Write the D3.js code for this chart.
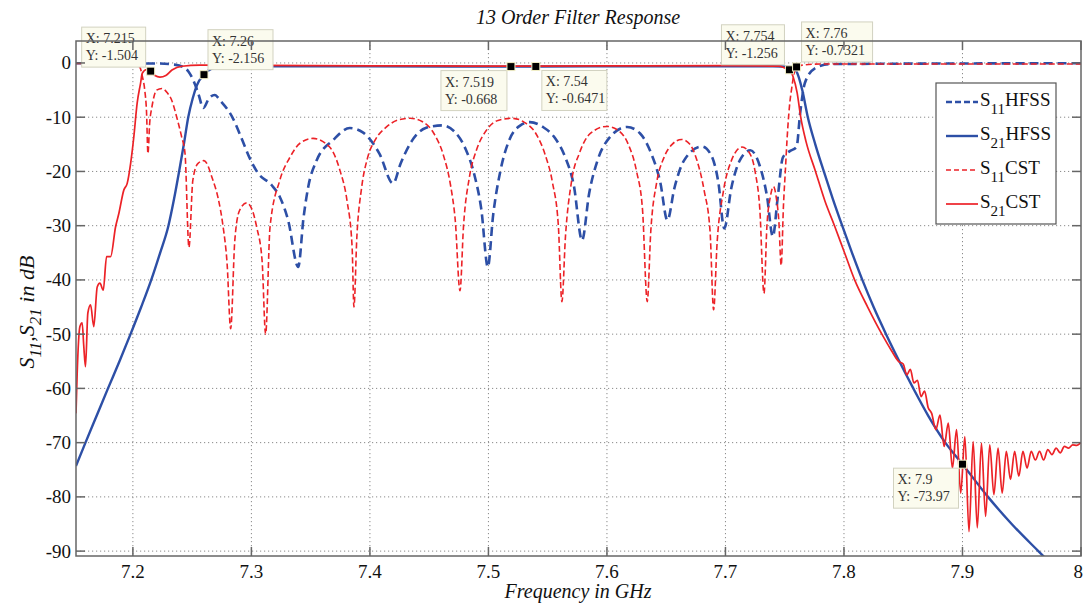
<!DOCTYPE html>
<html><head><meta charset="utf-8">
<script src="https://cdn.jsdelivr.net/npm/d3@7"></script>
<style>
body{margin:0;background:#fff;}
svg{display:block;font-family:"Liberation Serif","Times New Roman",serif;}
</style>
</head><body>
<svg id="c" width="1083" height="604"></svg>
<script>
// ---------- data ----------
const xTicks = [7.2, 7.3, 7.4, 7.5, 7.6, 7.7, 7.8, 7.9, 8.0];
const xTickLabels = ["7.2", "7.3", "7.4", "7.5", "7.6", "7.7", "7.8", "7.9", "8"];
const yTicks = [0, -10, -20, -30, -40, -50, -60, -70, -80, -90];
const yTickLabels = ["0", "-10", "-20", "-30", "-40", "-50", "-60", "-70", "-80", "-90"];

const seriesNames = ["S11HFSS", "S21HFSS", "S11CST", "S21CST"];

const s11Hfss = [
 [7.152,-0.05],[7.22,-0.1],[7.235,-0.3],[7.242,-0.7],[7.247,-1.6],[7.251,-3.2],[7.255,-5.5],
 [7.2595,-8.3],[7.264,-6.6],[7.269,-5.9],[7.274,-7],[7.2844,-10.2],[7.2915,-13.8],[7.2987,-17.6],
 [7.3055,-20.3],[7.317,-22.5],[7.324,-24.7],[7.331,-29],[7.3395,-37.6],[7.344,-28.5],[7.348,-22.8],
 [7.355,-18],[7.369,-14.2],[7.383,-12],[7.394,-12.8],[7.408,-16.7],[7.4195,-22.2],[7.426,-18.5],
 [7.435,-14.5],[7.447,-12],[7.461,-11.5],[7.472,-12.8],[7.481,-16],[7.488,-20.5],[7.494,-27],
 [7.4995,-37.6],[7.504,-28],[7.51,-20],[7.518,-14],[7.527,-11.5],[7.535,-10.9],[7.546,-11.8],
 [7.556,-13.8],[7.565,-17.5],[7.572,-22.5],[7.579,-32.7],[7.585,-24],[7.592,-18],[7.602,-13.8],
 [7.617,-11.8],[7.628,-13],[7.637,-16.5],[7.645,-22],[7.651,-29],[7.657,-23],[7.665,-18],
 [7.68,-15.4],[7.688,-17],[7.694,-22],[7.699,-30.5],[7.705,-23],[7.712,-18],[7.721,-16.1],
 [7.729,-19],[7.735,-24.5],[7.74,-32],[7.744,-25],[7.7485,-17.4],[7.754,-16.3],[7.76,-15.5],
 [7.763,-9.3],[7.767,-3.7],[7.7755,-1],[7.788,-0.2],[8.0,-0.05]
];

const s21Hfss = [
 [7.152,-74.3],[7.16,-70],[7.1695,-65],[7.179,-60],[7.1887,-55],[7.198,-50],[7.207,-45],
 [7.2155,-40],[7.223,-35],[7.23,-30],[7.2348,-25],[7.239,-20],[7.243,-15],[7.2467,-10],
 [7.2505,-6.5],[7.254,-4.1],[7.26,-2.156],[7.267,-1.0],[7.276,-0.65],[7.3,-0.6],[7.4,-0.62],
 [7.519,-0.668],[7.54,-0.647],[7.65,-0.62],[7.74,-0.6],[7.755,-0.75],[7.76,-1.6],[7.7648,-5],
 [7.7695,-10],[7.7758,-15],[7.783,-20],[7.7905,-25],[7.7985,-30],[7.8068,-35],[7.8155,-40],
 [7.825,-45],[7.8355,-50],[7.8467,-55],[7.8585,-60],[7.871,-65],[7.8855,-70],[7.9,-73.97],
 [7.9215,-80],[7.9415,-85],[7.964,-90],[7.975,-92.4]
];

const s11Cst = [
 [7.152,-0.1],[7.2,-0.2],[7.2035,-0.4],[7.2059,-0.8],[7.208,-2.5],[7.21,-5],[7.2115,-9],
 [7.2127,-16.7],[7.2142,-11],[7.216,-8.2],[7.22,-5],[7.2245,-4.7],[7.229,-5.5],[7.233,-7],
 [7.237,-10],[7.241,-13.5],[7.244,-16.7],[7.2473,-34],[7.2506,-21.6],[7.255,-18.5],[7.26,-18],
 [7.2675,-21.6],[7.272,-25],[7.276,-30],[7.2795,-37],[7.2825,-49],[7.286,-32.7],[7.29,-27.2],
 [7.296,-25.8],[7.3005,-27],[7.3045,-30.3],[7.309,-36.4],[7.312,-50],[7.3157,-30.3],
 [7.324,-21.6],[7.3325,-17.4],[7.341,-14.8],[7.352,-13.9],[7.366,-15.5],[7.3747,-19.8],
 [7.3806,-25.3],[7.385,-34],[7.3865,-45],[7.389,-32],[7.393,-23],[7.398,-17.5],[7.405,-14],
 [7.414,-11.8],[7.424,-10.5],[7.434,-10.2],[7.444,-10.8],[7.454,-13],[7.462,-17],[7.468,-22.5],
 [7.472,-29],[7.476,-42],[7.479,-30],[7.484,-21],[7.49,-16],[7.498,-12.5],[7.508,-10.6],
 [7.52,-10.2],[7.53,-10.9],[7.54,-13],[7.548,-17],[7.554,-22],[7.559,-30],[7.562,-44],
 [7.565,-32],[7.57,-22],[7.577,-16.5],[7.586,-13],[7.6,-11.7],[7.61,-12.5],[7.618,-15],
 [7.625,-20],[7.63,-27],[7.634,-44],[7.637,-31],[7.642,-22],[7.648,-17.5],[7.655,-15],
 [7.663,-14.1],[7.67,-15],[7.676,-18],[7.682,-23.5],[7.687,-31],[7.69,-45.5],[7.693,-33],
 [7.698,-24],[7.705,-18],[7.714,-15.5],[7.72,-16.5],[7.725,-20],[7.729,-27],[7.7325,-42.5],
 [7.735,-30],[7.738,-24.5],[7.7405,-22.8],[7.743,-25],[7.745,-29],[7.747,-37.3],[7.749,-26],
 [7.7505,-20],[7.752,-14],[7.754,-8],[7.756,-4.5],[7.758,-1.8],[7.76,-0.7321],[7.765,-0.4],
 [7.78,-0.2],[8.0,-0.2]
];

const s21Cst = [
 [7.152,-64.6],[7.153,-57.2],[7.1553,-48.6],[7.1572,-47.9],[7.1585,-52],[7.16,-56],[7.162,-46.1],
 [7.1643,-44.6],[7.167,-48.6],[7.1699,-41.3],[7.1722,-40.6],[7.175,-41.9],[7.1778,-35.7],
 [7.1812,-35.7],[7.1854,-30.2],[7.1882,-27.7],[7.1924,-23.4],[7.1952,-22.2],[7.1981,-18.5],
 [7.2008,-13.6],[7.2036,-7.4],[7.2065,-3.7],[7.2079,-1.9],[7.2118,-1.2],[7.215,-1.504],
 [7.2186,-2.3],[7.2228,-2.6],[7.2278,-2.3],[7.233,-1.3],[7.2414,-0.6],[7.2565,-0.4],
 [7.35,-0.5],[7.45,-0.55],[7.519,-0.6],[7.6,-0.55],[7.7,-0.5],[7.745,-0.6],[7.75,-0.9],
 [7.754,-1.256],[7.757,-2.5],[7.7605,-5.5],[7.7635,-10],[7.768,-14.5],[7.776,-20],[7.784,-25.5],
 [7.792,-30],[7.8,-34.7],[7.809,-40],[7.82,-45],[7.832,-50],[7.84,-53],[7.846,-55],[7.85,-55.5],
 [7.853,-57.5],[7.856,-56.5],[7.859,-59],[7.862,-58.5],[7.865,-61.5],[7.868,-60.5],[7.871,-63.5],
 [7.874,-64.6],[7.8775,-67.6],[7.881,-64.9],[7.8845,-70.7],[7.888,-66.4],[7.8915,-74.7],
 [7.895,-67.6],[7.8985,-79.3],[7.902,-68.9],[7.9055,-86.4],[7.909,-69.8],[7.9125,-85.7],
 [7.916,-70.1],[7.9195,-83.6],[7.923,-70.4],[7.9265,-79.6],[7.93,-71],[7.9335,-79.3],
 [7.937,-71.6],[7.9405,-76.8],[7.944,-71.6],[7.9475,-76.2],[7.951,-71.6],[7.9545,-74.7],
 [7.958,-71.6],[7.9615,-73.2],[7.965,-71.6],[7.9685,-73.2],[7.972,-71.3],[7.9755,-72.2],
 [7.979,-71],[7.9825,-71.9],[7.986,-70.7],[7.9895,-71],[7.993,-70.4],[7.9965,-70.5],[8.0,-70]
];

const tipX = [7.215, 7.26, 7.519, 7.54, 7.754, 7.76, 7.9];
const tipY = [-1.504, -2.156, -0.668, -0.6471, -1.256, -0.7321, -73.97];
const tipLabelX = ["7.215", "7.26", "7.519", "7.54", "7.754", "7.76", "7.9"];
const tipLabelY = ["-1.504", "-2.156", "-0.668", "-0.6471", "-1.256", "-0.7321", "-73.97"];

// ---------- layout ----------
const L = 76, R = 1081, T = 41, B = 556;
const svg = d3.select("#c");
const x = d3.scaleLinear().domain([7.152, 8.0]).range([L, R]);
const y = d3.scaleLinear().domain([-90.9, 4.05]).range([B, T]);

const blue = "#2d4fa6", red = "#ec2227";

// grid
const grid = svg.append("g");
grid.selectAll("line.gx").data(xTicks.slice(0, -1)).enter().append("line")
  .attr("x1", d => x(d)).attr("x2", d => x(d)).attr("y1", T).attr("y2", B)
  .attr("stroke", "#8a8a8a").attr("stroke-width", 1).attr("stroke-dasharray", "1.2,2.8");
grid.selectAll("line.gy").data(yTicks).enter().append("line")
  .attr("y1", d => y(d)).attr("y2", d => y(d)).attr("x1", L).attr("x2", R)
  .attr("stroke", "#8a8a8a").attr("stroke-width", 1).attr("stroke-dasharray", "1.2,2.8");

// clip
svg.append("clipPath").attr("id", "pc").append("rect")
  .attr("x", L).attr("y", T).attr("width", R - L).attr("height", B - T);

const line = d3.line().x(d => x(d[0])).y(d => y(d[1])).curve(d3.curveMonotoneX);
const plot = svg.append("g").attr("clip-path", "url(#pc)");
const styles = [
  {data: s11Hfss, color: blue, w: 2.6, dash: "9,5"},
  {data: s21Hfss, color: blue, w: 2.4, dash: null},
  {data: s11Cst, color: red, w: 1.6, dash: "6,3"},
  {data: s21Cst, color: red, w: 1.7, dash: null}
];
styles.forEach(s => {
  const p = plot.append("path").datum(s.data).attr("d", line)
    .attr("fill", "none").attr("stroke", s.color).attr("stroke-width", s.w)
    .attr("stroke-linejoin", "round");
  if (s.dash) p.attr("stroke-dasharray", s.dash);
});

// data tips
const tipOff = [[-69,-44,64],[4,-45,65],[-70,4,66],[6,4,65],[-68,-45,63],[5,-45,71],[-69,4,65]];
const tips = svg.append("g");
tipX.forEach((tx, i) => {
  const px = x(tx), py = y(tipY[i]);
  const o = tipOff[i];
  const bx = px + o[0], by = py + o[1];
  tips.append("rect").attr("x", bx).attr("y", by).attr("width", o[2]).attr("height", 40)
    .attr("fill", "#fbfbee").attr("stroke", "#d2d2c0").attr("stroke-width", 1);
  tips.append("text").attr("x", bx + 4).attr("y", by + 16).attr("font-size", 14).attr("fill", "#333")
    .text("X: " + tipLabelX[i]);
  tips.append("text").attr("x", bx + 4).attr("y", by + 33).attr("font-size", 14).attr("fill", "#333")
    .text("Y: " + tipLabelY[i]);
  tips.append("rect").attr("x", px - 4).attr("y", py - 4).attr("width", 8).attr("height", 8)
    .attr("fill", "#000").attr("stroke", "#f3f0c8").attr("stroke-width", 1);
});

// frame & ticks
const frame = svg.append("g").attr("stroke", "#666").attr("stroke-width", 1.5);
frame.append("rect").attr("x", L).attr("y", T).attr("width", R - L).attr("height", B - T).attr("fill", "none");
xTicks.forEach(t => {
  frame.append("line").attr("x1", x(t)).attr("x2", x(t)).attr("y1", B).attr("y2", B - 9);
  frame.append("line").attr("x1", x(t)).attr("x2", x(t)).attr("y1", T).attr("y2", T + 9);
});
yTicks.forEach(t => {
  frame.append("line").attr("y1", y(t)).attr("y2", y(t)).attr("x1", L).attr("x2", L + 9);
  frame.append("line").attr("y1", y(t)).attr("y2", y(t)).attr("x1", R).attr("x2", R - 9);
});

// tick labels
svg.append("g").selectAll("text").data(xTicks).enter().append("text")
  .attr("x", (d, i) => i === xTicks.length - 1 ? 1083 : x(d)).attr("y", 578)
  .attr("text-anchor", (d, i) => i === xTicks.length - 1 ? "end" : "middle").attr("font-size", 19)
  .attr("fill", "#111").text((d, i) => xTickLabels[i]);
svg.append("g").selectAll("text").data(yTicks).enter().append("text")
  .attr("x", 71).attr("y", d => y(d) + 6.5).attr("text-anchor", "end").attr("font-size", 19)
  .attr("fill", "#111").text((d, i) => yTickLabels[i]);

// titles
svg.append("text").attr("x", 578).attr("y", 24).attr("text-anchor", "middle")
  .attr("font-size", 20).attr("font-style", "italic").attr("fill", "#111").text("13 Order Filter Response");
svg.append("text").attr("x", 578).attr("y", 598).attr("text-anchor", "middle")
  .attr("font-size", 20).attr("font-style", "italic").attr("fill", "#111").text("Frequency in GHz");
const yl = svg.append("text").attr("transform", "translate(34,312) rotate(-90)")
  .attr("text-anchor", "middle").attr("font-size", 22).attr("font-style", "italic").attr("fill", "#111");
yl.append("tspan").text("S");
yl.append("tspan").attr("dy", 7).attr("font-size", 17).text("11");
yl.append("tspan").attr("dy", -7).text(",S");
yl.append("tspan").attr("dy", 7).attr("font-size", 17).text("21");
yl.append("tspan").attr("dy", -7).text("  in dB");

// legend
const lg = svg.append("g");
lg.append("rect").attr("x", 936).attr("y", 83).attr("width", 120).attr("height", 141)
  .attr("fill", "#fff").attr("stroke", "#555").attr("stroke-width", 1.2);
const legendSub = ["11", "21", "11", "21"];
const legendName = ["HFSS", "HFSS", "CST", "CST"];
styles.forEach((s, i) => {
  const ly = 102 + i * 34;
  const l = lg.append("line").attr("x1", 946).attr("x2", 978).attr("y1", ly).attr("y2", ly)
    .attr("stroke", s.color).attr("stroke-width", s.w);
  if (s.dash) l.attr("stroke-dasharray", i === 0 ? "6,3" : "5,3");
  const t = lg.append("text").attr("x", 980).attr("y", ly + 4).attr("font-size", 19).attr("fill", "#111");
  t.append("tspan").text("S");
  t.append("tspan").attr("dy", 8).attr("font-size", 15).text(legendSub[i]);
  t.append("tspan").attr("dy", -8).text(legendName[i]);
});
</script>
</body></html>
